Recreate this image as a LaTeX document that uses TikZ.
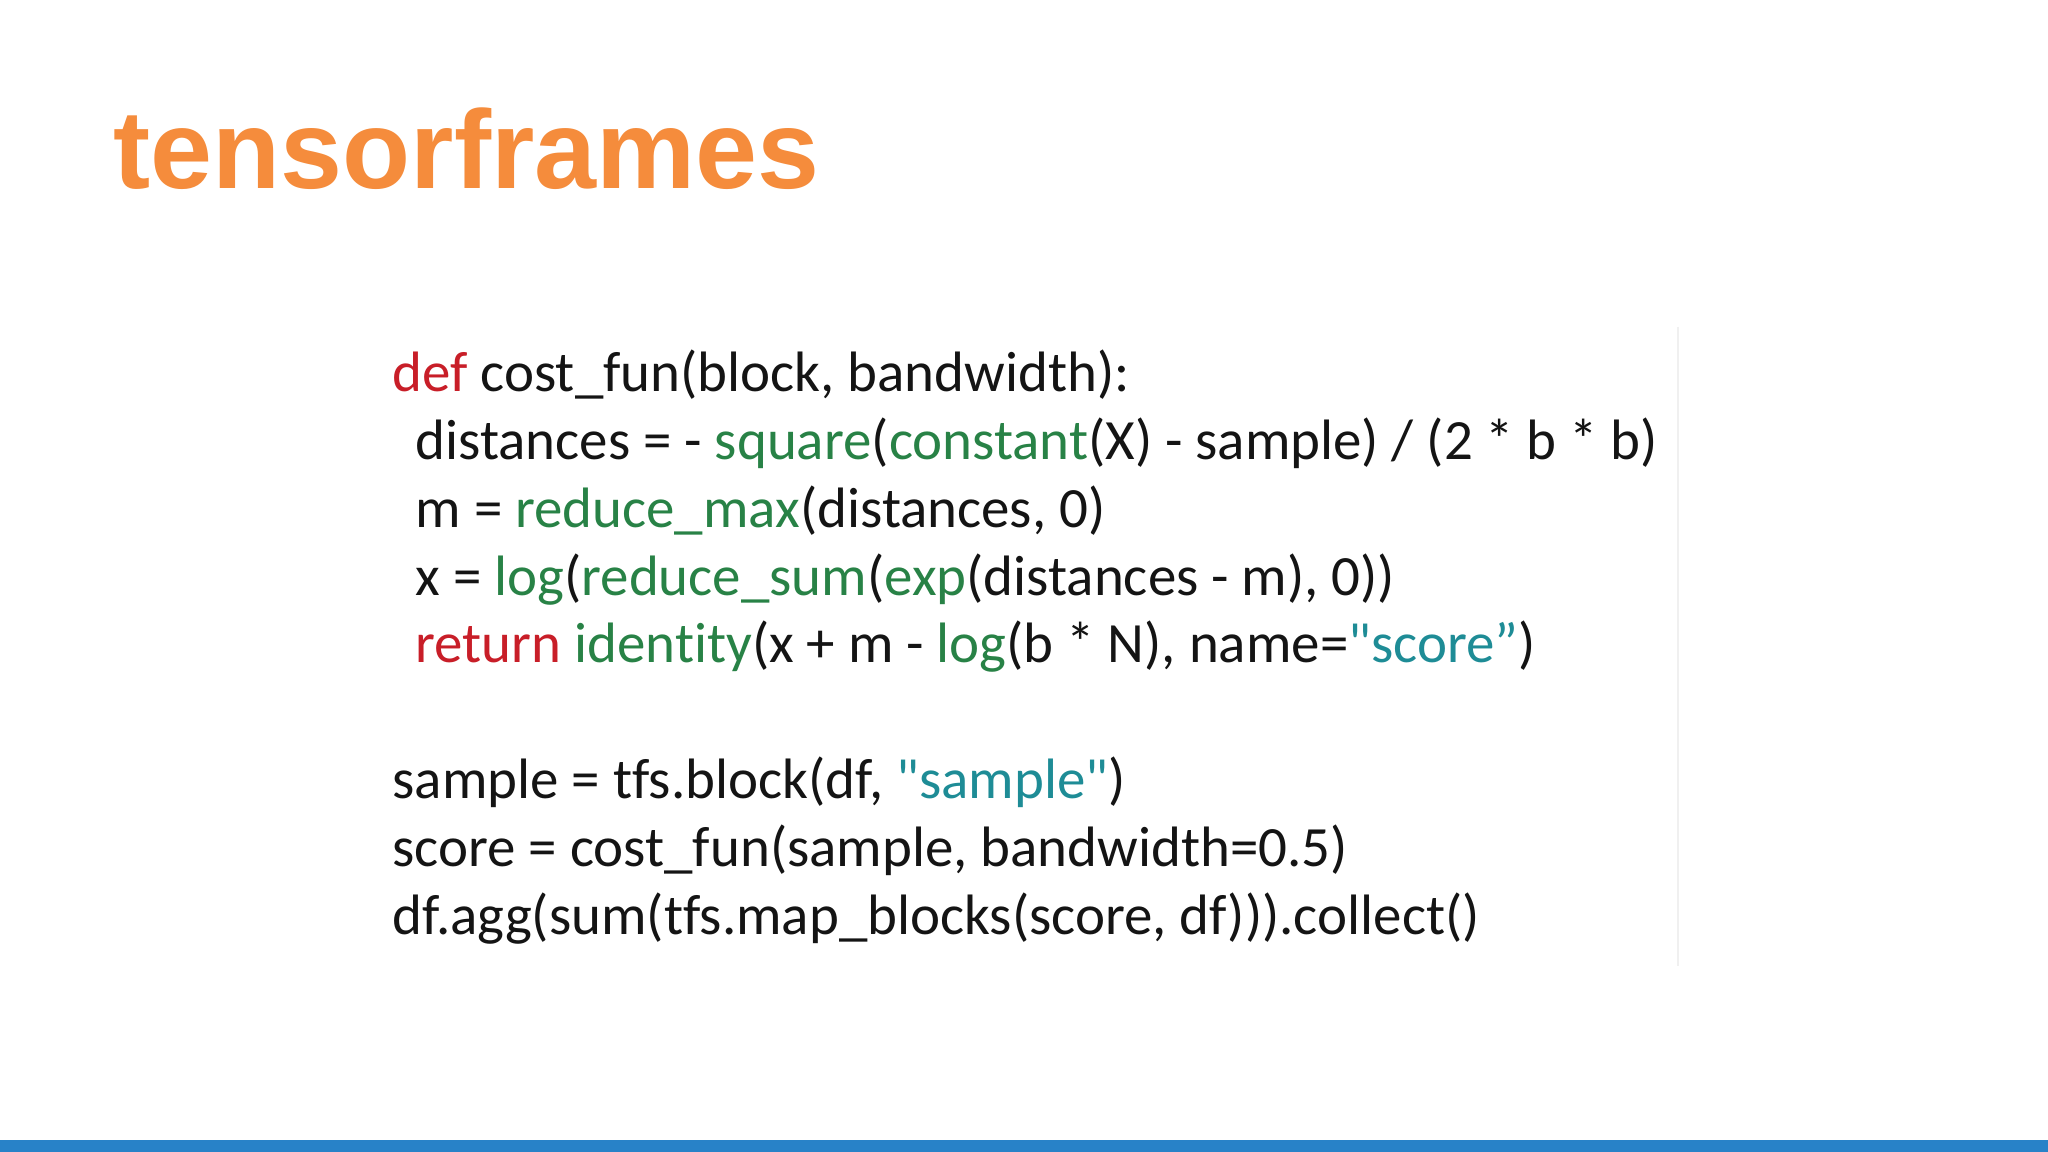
\documentclass[tikz,border=0pt]{standalone}
\usepackage{fontspec}
\setmainfont{Carlito}[Ligatures={TeXOff,CommonOff}]
\newfontfamily\titlefont{Liberation Sans}
\definecolor{ttl}{RGB}{245,140,60}
\definecolor{kw}{RGB}{200,30,40}
\definecolor{fn}{RGB}{40,130,70}
\definecolor{st}{RGB}{30,140,150}
\definecolor{bar}{RGB}{40,130,200}
\definecolor{txt}{RGB}{20,20,20}
\newcommand{\q}{\symbol{34}}
\tikzset{codeline/.style={anchor=base west,inner sep=0pt,font=\fontsize{16.2pt}{20pt}\selectfont,text=txt}}
\begin{document}
\begin{tikzpicture}
\useasboundingbox (0,0) rectangle (20.48,11.52);
\fill[white] (0,0) rectangle (20.48,11.52);
\fill[bar] (0,0) rectangle (20.48,0.12);
\draw[black!6,line width=0.6pt] (16.78,8.25) -- (16.78,1.86);
\node[anchor=base west,inner sep=0pt,font=\titlefont\bfseries\fontsize{31.7pt}{36pt}\selectfont,text=ttl] (title) at (1.13,9.63) {tensorframes};
\node[codeline] (l1) at (3.92,7.60) {\textcolor{kw}{def} cost\_fun(block, bandwidth):};
\node[codeline] (l2) at (4.15,6.92) {distances = - \textcolor{fn}{square}(\textcolor{fn}{constant}(X) - sample) / (2 * b * b)};
\node[codeline] (l3) at (4.15,6.24) {m = \textcolor{fn}{reduce\_max}(distances, 0)};
\node[codeline] (l4) at (4.15,5.56) {x = \textcolor{fn}{log}(\textcolor{fn}{reduce\_sum}(\textcolor{fn}{exp}(distances - m), 0))};
\node[codeline] (l5) at (4.15,4.89) {\textcolor{kw}{return} \textcolor{fn}{identity}(x + m - \textcolor{fn}{log}(b * N), name=\textcolor{st}{\q score”})};
\node[codeline] (l6) at (3.92,3.53) {sample = tfs.block(df, \textcolor{st}{\q sample\q})};
\node[codeline] (l7) at (3.92,2.85) {score = cost\_fun(sample, bandwidth=0.5)};
\node[codeline] (l8) at (3.92,2.17) {df.agg(sum(tfs.map\_blocks(score, df))).collect()};
\end{tikzpicture}
\end{document}
